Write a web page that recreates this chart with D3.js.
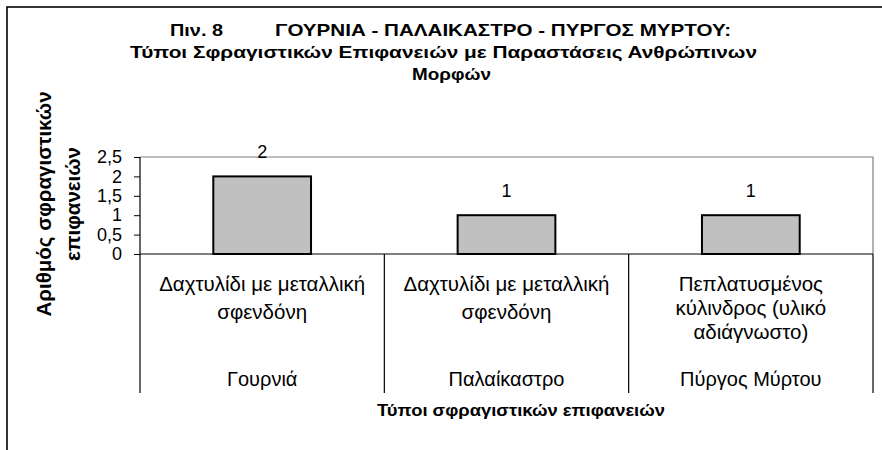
<!DOCTYPE html>
<html>
<head>
<meta charset="utf-8">
<script src="https://cdn.jsdelivr.net/npm/d3@7"></script>
<style>
  html, body { margin: 0; padding: 0; background: #fff; }
  svg text { font-family: "Liberation Sans", Arial, sans-serif; fill: #000; }
</style>
</head>
<body>
<svg id="chart" width="882" height="450"></svg>
<script>
// Sites (outer category level) and seal-surface types (inner level, pre-wrapped lines)
const sites = ["Γουρνιά", "Παλαίκαστρο", "Πύργος Μύρτου"];
const sealTypes = [
  ["Δαχτυλίδι με μεταλλική", "σφενδόνη"],
  ["Δαχτυλίδι με μεταλλική", "σφενδόνη"],
  ["Πεπλατυσμένος", "κύλινδρος (υλικό", "αδιάγνωστο)"]
];
const counts = [2, 1, 1];
const yTicks = [0, 0.5, 1, 1.5, 2, 2.5];
const titleNumber = "Πιν. 8";
const titleLines = [
  "ΓΟΥΡΝΙΑ - ΠΑΛΑΙΚΑΣΤΡΟ - ΠΥΡΓΟΣ ΜΥΡΤΟΥ:",
  "Τύποι Σφραγιστικών Επιφανειών με Παραστάσεις Ανθρώπινων",
  "Μορφών"
];
const yTitleLines = ["Αριθμός σφραγιστικών", "επιφανειών"];
const xTitle = "Τύποι σφραγιστικών επιφανειών";

const svg = d3.select("#chart");
const plot = { left: 140, right: 873, top: 157, bottom: 254 };

// Outer chart frame
svg.append("rect")
  .attr("x", 7).attr("y", 7).attr("width", 900).attr("height", 500)
  .attr("fill", "none").attr("stroke", "#000").attr("stroke-width", 1.6);

const keys = sites.map((s, i) => i);
const x = d3.scaleBand().domain(keys).range([plot.left, plot.right]).paddingInner(0).paddingOuter(0);
const y = d3.scaleLinear().domain([0, 2.5]).range([plot.bottom, plot.top]);

// Plot-area border (top and right)
svg.append("path")
  .attr("d", `M${plot.left},${plot.top}H${plot.right}V${plot.bottom}`)
  .attr("fill", "none").attr("stroke", "#808080").attr("stroke-width", 1.2);

// Title: wide bold lines, each fitted to its own width
const title = svg.append("g").attr("font-weight", "bold").attr("font-size", 16.5);
title.append("text").attr("x", 170).attr("y", 36)
  .attr("textLength", 53).attr("lengthAdjust", "spacingAndGlyphs")
  .text(titleNumber);
title.selectAll("text.line").data(titleLines).join("text")
  .attr("class", "line")
  .attr("x", (d, i) => [275, 130, 412][i])
  .attr("y", (d, i) => 36 + i * 22)
  .attr("textLength", (d, i) => [456, 627, 79][i])
  .attr("lengthAdjust", "spacingAndGlyphs")
  .text(d => d);

// Bars
svg.append("g").selectAll("rect").data(counts).join("rect")
  .attr("x", (d, i) => x(i) + x.bandwidth() * 0.3)
  .attr("width", x.bandwidth() * 0.4)
  .attr("y", d => y(d))
  .attr("height", d => y(0) - y(d))
  .attr("fill", "#c0c0c0").attr("stroke", "#000").attr("stroke-width", 2);

// Value labels
svg.append("g").selectAll("text").data(counts).join("text")
  .attr("x", (d, i) => x(i) + x.bandwidth() / 2)
  .attr("y", d => y(d) - 18)
  .attr("text-anchor", "middle").attr("font-size", 18)
  .text(d => d);

// Y axis
const yAxis = d3.axisLeft(y).tickValues(yTicks).tickSize(6).tickPadding(12)
  .tickFormat(d => String(d).replace(".", ","));
const gy = svg.append("g").attr("transform", `translate(${plot.left},0)`).call(yAxis);
gy.select(".domain").remove();
gy.selectAll("line").attr("stroke", "#000");
gy.selectAll("text").attr("font-size", 18).attr("font-family", "Liberation Sans, Arial, sans-serif");

// Axis line (left) running down through the category label rows
svg.append("line")
  .attr("x1", plot.left).attr("x2", plot.left)
  .attr("y1", plot.top).attr("y2", 393)
  .attr("stroke", "#000").attr("stroke-width", 1.2);

// Category baseline
svg.append("line")
  .attr("x1", plot.left).attr("x2", plot.right)
  .attr("y1", plot.bottom).attr("y2", plot.bottom)
  .attr("stroke", "#000").attr("stroke-width", 1.2);

// Category separators
svg.append("g").selectAll("line").data(keys).join("line")
  .attr("x1", i => x(i) + x.bandwidth()).attr("x2", i => x(i) + x.bandwidth())
  .attr("y1", plot.bottom).attr("y2", 393)
  .attr("stroke", "#000").attr("stroke-width", 1.2);

// Inner category labels (seal types)
const lineGap = [28, 28, 24];
const gt = svg.append("g");
sealTypes.forEach((lines, i) => {
  gt.append("text")
    .attr("text-anchor", "middle").attr("font-size", 20.5)
    .selectAll("tspan").data(lines).join("tspan")
    .attr("x", x(i) + x.bandwidth() / 2)
    .attr("y", (d, j) => 291 + j * lineGap[i])
    .text(d => d);
});

// Outer category labels (sites)
svg.append("g").selectAll("text").data(sites).join("text")
  .attr("x", (d, i) => x(i) + x.bandwidth() / 2)
  .attr("y", 386)
  .attr("text-anchor", "middle").attr("font-size", 20)
  .text(d => d);

// X axis title
svg.append("text")
  .attr("x", 377).attr("y", 416)
  .attr("font-weight", "bold").attr("font-size", 17)
  .attr("textLength", 288).attr("lengthAdjust", "spacingAndGlyphs")
  .text(xTitle);

// Y axis title (rotated, two lines)
svg.append("g").selectAll("text").data(yTitleLines).join("text")
  .attr("transform", (d, i) => `translate(${[51, 80][i]},204) rotate(-90)`)
  .attr("text-anchor", "middle").attr("font-weight", "bold").attr("font-size", 20.5)
  .text(d => d);
</script>
</body>
</html>
